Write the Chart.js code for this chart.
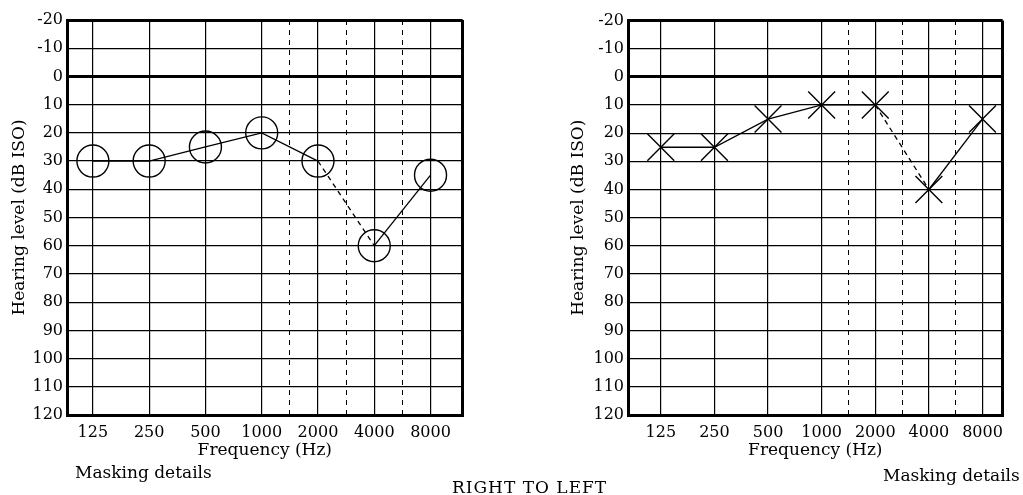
<!DOCTYPE html>
<html>
<head>
<meta charset="utf-8">
<script src="https://cdn.jsdelivr.net/npm/chart.js@4.4.0/dist/chart.umd.min.js"></script>
<style>
body{margin:0;background:#fff;width:1023px;height:495px;overflow:hidden;position:relative;font-family:'DejaVu Serif',serif;color:#000;}
#left{position:absolute;left:0;top:0;width:480px;height:495px;}
#right{position:absolute;left:540px;top:0;width:483px;height:495px;}
.note{position:absolute;font-size:17px;line-height:1;white-space:nowrap;}
</style>
</head>
<body>
<div id="left"><canvas id="leftCanvas"></canvas></div>
<div id="right"><canvas id="rightCanvas"></canvas></div>
<div class="note" style="left:75px;top:464px">Masking details</div>
<div class="note" style="left:883px;top:467px">Masking details</div>
<div class="note" style="left:452px;top:479px;letter-spacing:1px">RIGHT TO LEFT</div>
<script>
// frequencies on an octave scale (125 Hz = 0)
var freqLabels = ['125', '250', '500', '1000', '2000', '4000', '8000'];
var octaves = [0, 1, 2, 3, 4, 5, 6];
var halfOctaves = [3.5, 4.5, 5.5];
var dbTicks = [-20, -10, 0, 10, 20, 30, 40, 50, 60, 70, 80, 90, 100, 110, 120];

// right ear (circles) and left ear (crosses), dB
var rightEar = [30, 30, 25, 20, 30, 60, 35];
var leftEar = [25, 25, 15, 10, 10, 40, 15];
// segment starting at this index is dashed (2000 -> 4000)
var dashedFrom = 4;

var serif = 'DejaVu Serif';

function points(values) {
    var out = [];
    for (var i in values) {
        out.push({x: octaves[i], y: values[i]});
    }
    return out;
}

function makeChart(id, values, style, radius, xmin, xmax, yWidth, padRight, yTitlePad) {
    var ctx = document.getElementById(id);
    return new Chart(ctx, {
        type: 'line',
        data: {
            datasets: [{
                data: points(values),
                borderColor: '#000',
                borderWidth: 1.3,
                pointStyle: style,
                pointRadius: radius,
                pointHoverRadius: radius,
                pointBorderColor: '#000',
                pointBorderWidth: 1.4,
                pointBackgroundColor: 'rgba(0,0,0,0)',
                fill: false,
                tension: 0,
                segment: {
                    borderDash: function(c) { return c.p0DataIndex === dashedFrom ? [5, 4] : undefined; }
                }
            }]
        },
        options: {
            responsive: true,
            maintainAspectRatio: false,
            devicePixelRatio: 1,
            animation: false,
            clip: false,
            layout: {padding: {top: 20, right: padRight, bottom: 30, left: 0}},
            plugins: {legend: {display: false}, tooltip: {enabled: false}},
            scales: {
                x: {
                    type: 'linear',
                    min: xmin,
                    max: xmax,
                    afterBuildTicks: function(scale) {
                        var t = [{value: xmin}];
                        octaves.forEach(function(v) { t.push({value: v}); });
                        t.push({value: xmax});
                        scale.ticks = t;
                    },
                    afterFit: function(scale) { scale.height = 50; },
                    ticks: {
                        autoSkip: false,
                        maxRotation: 0,
                        padding: 8,
                        color: '#000',
                        font: {family: serif, size: 16},
                        callback: function(v) {
                            var i = octaves.indexOf(v);
                            return i >= 0 ? freqLabels[i] : '';
                        }
                    },
                    grid: {
                        color: '#000',
                        drawTicks: false,
                        lineWidth: function(c) {
                            return (c.tick && (c.tick.value === xmin || c.tick.value === xmax)) ? 3 : 1.2;
                        }
                    },
                    border: {display: true, color: '#000', width: 3},
                    title: {
                        display: true,
                        text: 'Frequency (Hz)',
                        color: '#000',
                        font: {family: serif, size: 17},
                        padding: {top: 0, bottom: 4}
                    }
                },
                xHalf: {
                    type: 'linear',
                    position: 'top',
                    min: xmin,
                    max: xmax,
                    afterBuildTicks: function(scale) {
                        scale.ticks = halfOctaves.map(function(v) { return {value: v}; });
                    },
                    afterFit: function(scale) { scale.height = 0; },
                    ticks: {display: false},
                    grid: {color: '#000', lineWidth: 1, drawTicks: false},
                    border: {display: false, dash: [5, 5]}
                },
                y: {
                    type: 'linear',
                    reverse: true,
                    min: -20,
                    max: 120,
                    afterBuildTicks: function(scale) {
                        scale.ticks = dbTicks.map(function(v) { return {value: v}; });
                    },
                    afterFit: function(scale) { scale.width = yWidth; },
                    ticks: {
                        autoSkip: false,
                        padding: 4,
                        color: '#000',
                        font: {family: serif, size: 16}
                    },
                    grid: {
                        color: '#000',
                        drawTicks: false,
                        lineWidth: function(c) {
                            if (!c.tick) return 1.2;
                            var v = c.tick.value;
                            return (v === 0 || v === -20 || v === 120) ? 3 : 1.2;
                        }
                    },
                    border: {display: true, color: '#000', width: 3},
                    title: {
                        display: true,
                        text: 'Hearing level (dB ISO)',
                        color: '#000',
                        font: {family: serif, size: 17},
                        padding: {top: yTitlePad, bottom: 0}
                    }
                }
            }
        }
    });
}

makeChart('leftCanvas', rightEar, 'circle', 16, -0.46, 6.57, 67, 16, 9);
makeChart('rightCanvas', leftEar, 'crossRot', 19, -0.612, 6.375, 88, 2, 28);
</script>
</body>
</html>
